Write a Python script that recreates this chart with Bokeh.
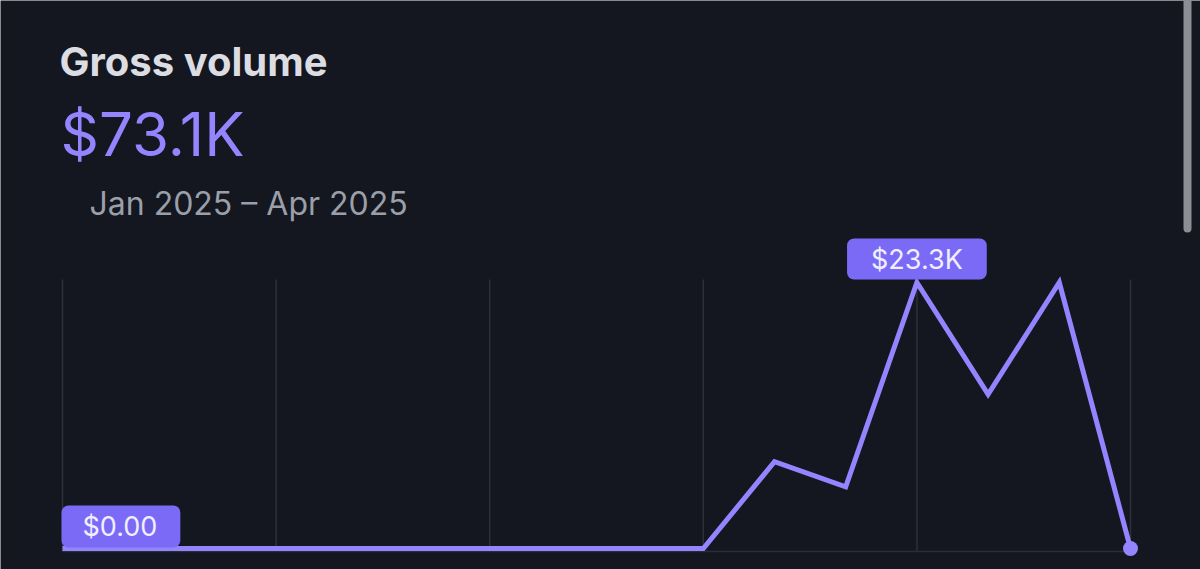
from bokeh.plotting import figure
from bokeh.models import Label, Range1d, BoxAnnotation
from bokeh.embed import file_html
from bokeh.resources import INLINE

# ---- data ($K per period) ----
periods = list(range(16))
volume_k = [0, 0, 0, 0, 0, 0, 0, 0, 0, 0, 7.6, 5.4, 23.3, 13.5, 23.3, 0]
grid_periods = [0, 3, 6, 9, 12, 15]
title_text = "Gross volume"
total_text = "$73.1K"
range_text = "Jan 2025 \u2013 Apr 2025"
max_label = "$23.3K"
min_label = "$0.00"

BG = "#14171f"
PURPLE = "#9584ff"
BOX = "#7a6af5"

# pixel mapping helpers (screen pixels -> data), for layout only
SX = 71.2
SY = 266 / 23.3
def dx(px):
    return (px - 62) / SX
def dy(py):
    return (548 - py) / SY

W, H = 1200, 569
p = figure(width=W, height=H, output_backend="svg", toolbar_location=None,
           x_range=Range1d(dx(0), dx(W)), y_range=Range1d(dy(H), dy(0)),
           min_border=0, background_fill_color=BG, border_fill_color=BG,
           outline_line_color=None)
p.axis.visible = False
p.grid.visible = False

ymax = max(volume_k)
# vertical grid lines
p.segment(x0=grid_periods, y0=[dy(551)] * len(grid_periods), x1=grid_periods,
          y1=[dy(279)] * len(grid_periods), line_color="#2c3039", line_width=1.5)
# baseline
p.segment(x0=[periods[0]], y0=[dy(551)], x1=[periods[-1]], y1=[dy(551)],
          line_color="#2a2e36", line_width=1.5)

p.line(periods, volume_k, line_color=PURPLE, line_width=5, line_join="miter")
p.scatter([periods[-1]], [volume_k[-1]], size=15, fill_color=PURPLE, line_color=None)

# header texts
p.add_layout(Label(x=dx(59), y=dy(61), text=title_text, text_font="Inter",
                   text_font_style="bold", text_font_size="40px", text_color="#dcdde2",
                   text_baseline="alphabetic"))
p.add_layout(Label(x=dx(60), y=dy(133), text=total_text, text_font="Inter",
                   text_font_size="60px", text_color=PURPLE, text_baseline="alphabetic"))
p.add_layout(Label(x=dx(89), y=dy(203), text=range_text, text_font="Inter",
                   text_font_size="32px", text_color="#9a9fa9", text_baseline="alphabetic"))

# value badges
imax = volume_k.index(ymax)
p.add_layout(Label(x=periods[imax], y=ymax, text=max_label, text_font="Inter",
                   text_font_size="27px", text_color="#f1efff", text_align="center",
                   text_baseline="bottom", y_offset=3,
                   background_fill_color=BOX, border_radius=7,
                   padding=dict(left=24, right=24, top=4, bottom=4)))
p.add_layout(Label(x=periods[0], y=volume_k[0], text=min_label, text_font="Inter",
                   text_font_size="27px", text_color="#f1efff", text_align="left",
                   text_baseline="bottom", x_offset=-1, y_offset=1,
                   background_fill_color=BOX, border_radius=7,
                   padding=dict(left=21, right=23, top=4, bottom=5)))

# scrollbar decoration
p.add_layout(BoxAnnotation(left=dx(1183), right=dx(1191), top=dy(-10), bottom=dy(232),
                           fill_color="#8b8e94", fill_alpha=1, line_color=None,
                           border_radius=4))

open("out.html", "w").write(file_html(p, INLINE))
